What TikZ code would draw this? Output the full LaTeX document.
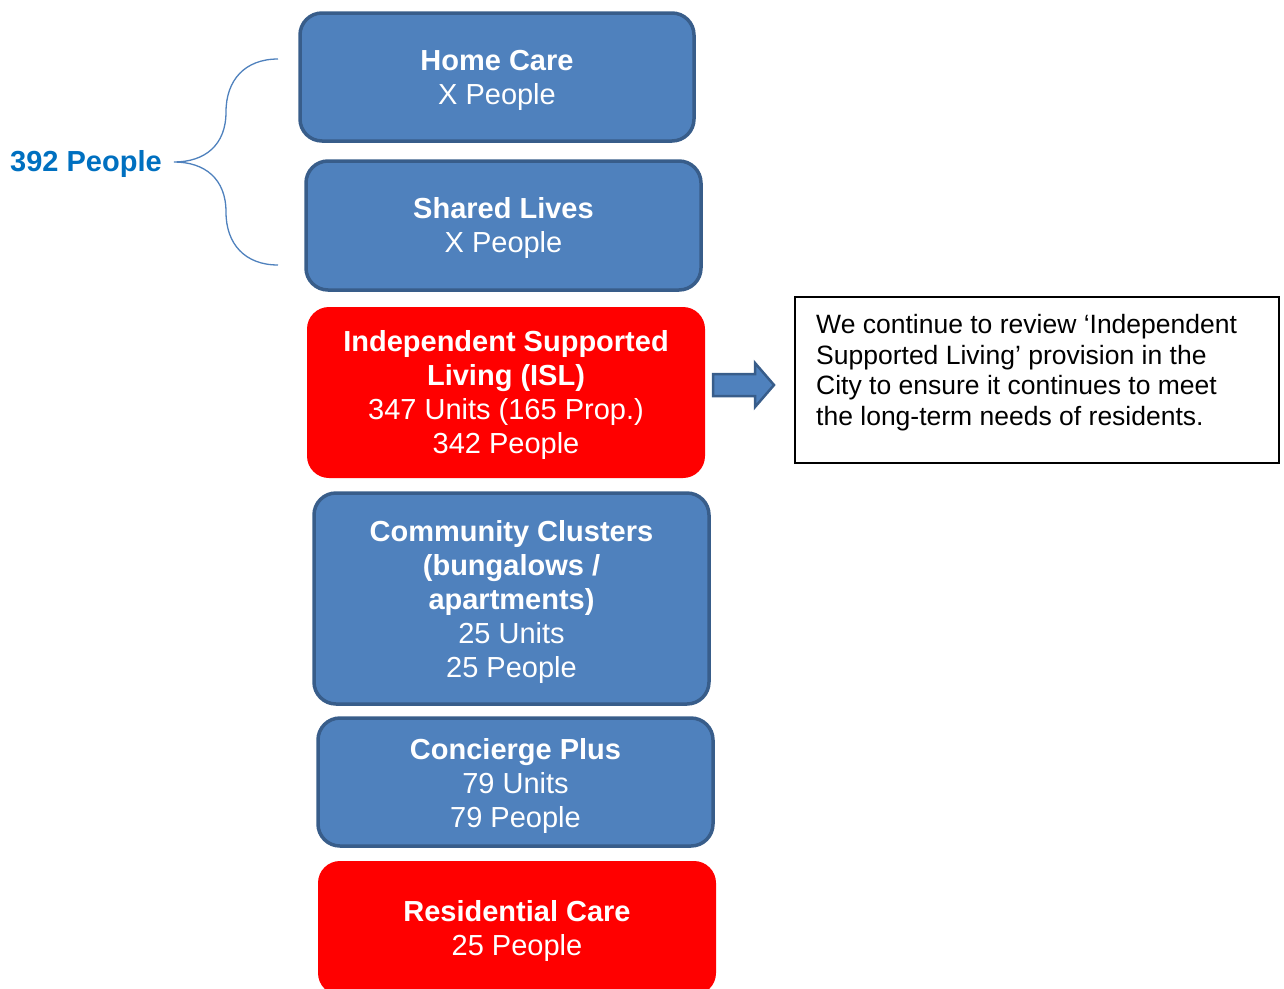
\documentclass[tikz,border=0pt]{standalone}
\usepackage{fontspec}
\setmainfont{Liberation Sans}
\definecolor{boxblue}{HTML}{4F81BD}
\definecolor{boxedge}{HTML}{385D8A}
\definecolor{labelblue}{HTML}{0070C0}
\newcommand{\toplift}{\rule{0pt}{27pt}}
\begin{document}
\begin{tikzpicture}[x=1pt,y=1pt,
  base/.style={rounded corners=22pt, align=center, text=white, inner sep=0pt,
    font=\fontsize{29}{34}\selectfont},
  bluebox/.style={base, fill=boxblue, draw=boxedge, line width=3.5pt},
  redbox/.style={base, fill=red, draw=none},
  bracecol/.style={draw=boxblue, line width=1.3pt}]
\useasboundingbox (0,0) rectangle (1284,-988);
\node[bluebox, minimum width=394, minimum height=128] (hc) at (497,-77)
  {\toplift\textbf{Home Care}\\X People};
\node[bluebox, minimum width=395, minimum height=129] (sl) at (503.5,-225.5)
  {\toplift\textbf{Shared Lives}\\X People};
\node[redbox, minimum width=398, minimum height=171] (isl) at (506,-392.5)
  {\toplift\textbf{Independent Supported}\\\textbf{Living (ISL)}\\347 Units (165 Prop.)\\342 People};
\node[bluebox, minimum width=395, minimum height=211] (cc) at (511.5,-598.5)
  {\toplift\textbf{Community Clusters}\\\textbf{(bungalows /}\\\textbf{apartments)}\\25 Units\\25 People};
\node[bluebox, minimum width=395, minimum height=128] (cp) at (515.5,-782)
  {\rule{0pt}{29pt}\textbf{Concierge Plus}\\79 Units\\79 People};
\node[redbox, minimum width=398, minimum height=134] (rc) at (517,-928)
  {\toplift\textbf{Residential Care}\\25 People};
% label and brace
\node[anchor=west, inner sep=0pt, text=labelblue, font=\fontsize{29}{34}\selectfont\bfseries]
  (total) at (10,-164) {392 People};
\coordinate (btop) at (278,-59);
\coordinate (bbot) at (278,-265);
\coordinate (btip) at (174,-162);
\draw[bracecol] (btop) .. controls (245,-59) and (226,-80) .. (226,-112)
  .. controls (226,-145) and (205,-162) .. (btip)
  .. controls (205,-162) and (226,-179) .. (226,-212)
  .. controls (226,-244) and (245,-265) .. (bbot);
% block arrow
\draw[fill=boxblue, draw=boxedge, line width=2.5pt, line join=miter]
  (713,-374) -- (755,-374) -- (755,-363) -- (774,-385) -- (755,-407)
  -- (755,-396) -- (713,-396) -- cycle;
% note box
\node[draw=black, line width=1.5pt, minimum width=484, minimum height=166, inner sep=0pt]
  (note) at (1037,-380) {};
\node[anchor=north west, align=left, inner sep=0pt,
  font=\fontsize{26.5}{30.7}\selectfont] (notetext) at (816,-314)
  {We continue to review ‘Independent\\Supported Living’ provision in the\\City to ensure it continues to meet\\the long-term needs of residents.};
\end{tikzpicture}
\end{document}
